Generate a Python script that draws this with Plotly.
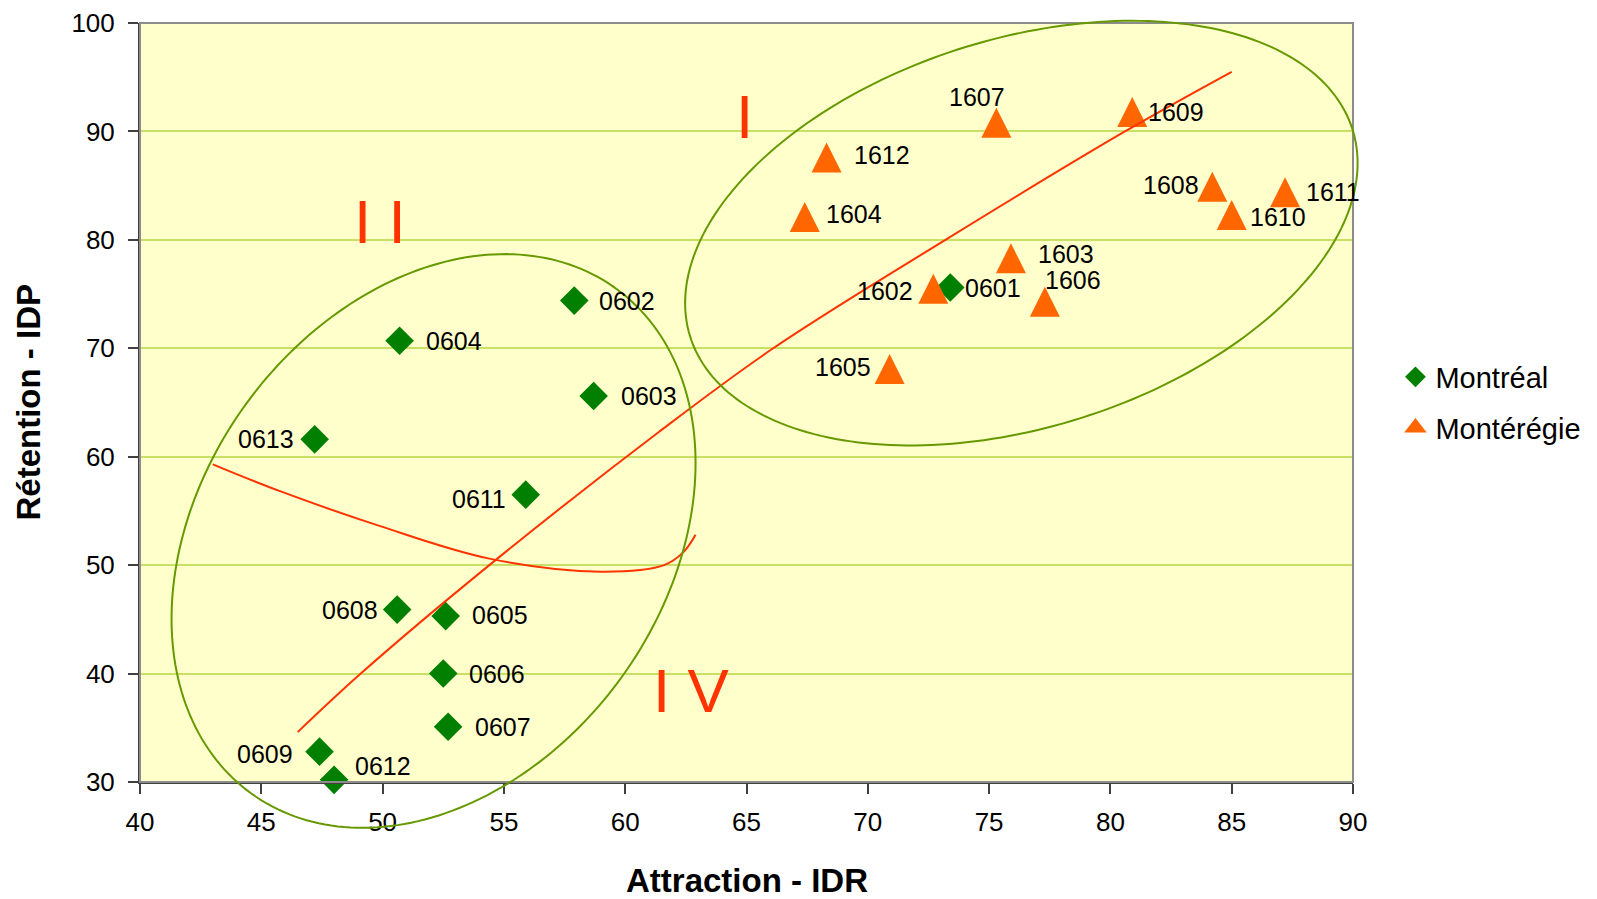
import numpy as np
import plotly.graph_objects as go

# ---------------- data ----------------
mtl_ids = ['0601', '0602', '0603', '0604', '0605', '0606', '0607', '0608', '0609', '0611', '0612', '0613']
mtl_x = [73.4, 57.9, 58.7, 50.7, 52.6, 52.5, 52.7, 50.6, 47.4, 55.9, 48.0, 47.2]
mtl_y = [75.6, 74.4, 65.6, 70.7, 45.3, 40.0, 35.1, 45.9, 32.8, 56.5, 30.2, 61.6]

mont_ids = ['1602', '1603', '1604', '1605', '1606', '1607', '1608', '1609', '1610', '1611', '1612']
mont_x = [72.7, 75.9, 67.4, 70.9, 77.3, 75.3, 84.2, 80.9, 85.0, 87.2, 68.3]
mont_y = [75.5, 78.3, 82.1, 68.1, 74.3, 90.8, 84.9, 91.8, 82.3, 84.4, 87.6]

# hand-drawn trend line
trend_x = [46.5, 49.1, 54.4, 61.4, 66.1, 73.2, 80.6, 85.0]
trend_y = [34.6, 40.0, 50.0, 62.3, 70.0, 80.0, 90.0, 95.5]

# hand-drawn separating curve
curve_x = [43.0, 45.8, 49.9, 54.4, 59.0, 61.6, 62.4, 62.9]
curve_y = [59.3, 56.8, 53.6, 50.6, 49.4, 50.0, 51.2, 52.8]

quadrant_labels = ['I', 'I I', 'I V']
quadrant_x = [64.9, 49.9, 62.7]
quadrant_y = [91.4, 81.7, 38.4]

x_ticks = [40, 45, 50, 55, 60, 65, 70, 75, 80, 85, 90]
y_ticks = [30, 40, 50, 60, 70, 80, 90, 100]

X_RANGE = [40, 90]
Y_RANGE = [30, 100]

# ---------------- label placement (px) ----------------
mtl_label_pos = {
    '0601': ('left', 14, 0), '0602': ('left', 24, 0), '0603': ('left', 26, 0),
    '0604': ('left', 25, 0), '0605': ('left', 25, -1), '0606': ('left', 25, 0),
    '0607': ('left', 26, 0), '0608': ('right', -18, 0), '0609': ('right', -26, 2),
    '0611': ('right', -19, 4), '0612': ('left', 20, -14), '0613': ('right', -20, 0),
}
mont_label_pos = {
    '1602': ('right', -19, 2), '1603': ('left', 26, -4), '1604': ('left', 20, -3),
    '1605': ('right', -18, -2), '1606': ('left', -1, -22), '1607': ('center', -19, -26),
    '1608': ('right', -12, -2), '1609': ('left', 15, 0), '1610': ('left', 17, 2),
    '1611': ('left', 20, 0), '1612': ('left', 26, -2),
}

FONT = 'Liberation Sans, Arial, sans-serif'
GREEN = '#007f00'
ORANGE = '#ff6600'
RED = '#ff3300'
OLIVE = '#669900'

fig = go.Figure()

fig.add_trace(go.Scatter(
    x=mtl_x, y=mtl_y, mode='markers', name='Montréal', cliponaxis=False,
    marker=dict(symbol='diamond', size=22, color=GREEN, line=dict(width=0)),
    legendgroup='a', legendrank=1, hoverinfo='skip'))
# upward pointing triangle with Excel-like proportions (centred on the point)
fig.add_trace(go.Scatter(
    x=mont_x, y=mont_y, mode='markers', name='Montérégie', cliponaxis=False,
    marker=dict(symbol='arrow-down', angle=180, standoff=15, size=30, color=ORANGE,
                line=dict(width=0)),
    legendgroup='b', showlegend=False, hoverinfo='skip'))
# legend entry for the Montérégie series
fig.add_trace(go.Scatter(
    x=[None], y=[None], mode='markers', name='Montérégie',
    marker=dict(symbol='triangle-up', size=16, color=ORANGE,
                line=dict(width=2, color=ORANGE)),
    legendgroup='b', legendrank=2, hoverinfo='skip'))

fig.add_trace(go.Scatter(x=trend_x, y=trend_y, mode='lines',
                         line=dict(color=RED, width=2, shape='spline', smoothing=1.0),
                         showlegend=False, hoverinfo='skip'))
fig.add_trace(go.Scatter(x=curve_x, y=curve_y, mode='lines',
                         line=dict(color=RED, width=2, shape='spline', smoothing=1.0),
                         showlegend=False, hoverinfo='skip'))


# ellipses (drawn shapes, may overflow the plot area) – geometry constants
def ellipse_path(cx, cy, ax, ay, bx, by, n=240):
    t = np.linspace(0, 2 * np.pi, n)
    xs = cx + ax * np.cos(t) + bx * np.sin(t)
    ys = cy + ay * np.cos(t) + by * np.sin(t)
    px = (xs - X_RANGE[0]) / (X_RANGE[1] - X_RANGE[0])
    py = (ys - Y_RANGE[0]) / (Y_RANGE[1] - Y_RANGE[0])
    pts = ['%.5f,%.5f' % (a, b) for a, b in zip(px, py)]
    return 'M' + ' L'.join(pts) + ' Z'


shapes = [dict(type='rect', xref='x domain', yref='y domain', x0=0, x1=1, y0=0, y1=1,
               line=dict(color='#8c8c8c', width=2), layer='above')]
for geo in [(76.33, 80.62, 13.86, 6.45, 0.0, 18.49), (52.10, 52.23, 10.80, 7.19, 0.0, 25.46)]:
    shapes.append(dict(type='path', xref='paper', yref='paper', path=ellipse_path(*geo),
                       line=dict(color=OLIVE, width=2), fillcolor='rgba(0,0,0,0)', layer='above'))

annotations = []
for ids, xs, ys, pos in [(mtl_ids, mtl_x, mtl_y, mtl_label_pos), (mont_ids, mont_x, mont_y, mont_label_pos)]:
    for i, xv, yv in zip(ids, xs, ys):
        anc, dx, dy = pos[i]
        annotations.append(dict(x=xv, y=yv, xref='x', yref='y', text=i, showarrow=False,
                                xanchor=anc, yanchor='middle', xshift=dx, yshift=-dy, borderpad=0,
                                font=dict(family=FONT, size=25, color='black')))
for t, xv, yv in zip(quadrant_labels, quadrant_x, quadrant_y):
    annotations.append(dict(x=xv, y=yv, xref='x', yref='y', text=t, showarrow=False,
                            xanchor='center', yanchor='middle',
                            font=dict(family=FONT, size=62, color=RED)))
annotations.append(dict(x=0.5, y=0, xref='paper', yref='paper', text='<b>Attraction - IDR</b>',
                        showarrow=False, xanchor='center', yanchor='middle', yshift=-98,
                        font=dict(family=FONT, size=33, color='black')))
annotations.append(dict(x=0, y=0.5, xref='paper', yref='paper', text='<b>Rétention - IDP</b>',
                        showarrow=False, xanchor='center', yanchor='middle', xshift=-112,
                        textangle=-90, font=dict(family=FONT, size=33, color='black')))

fig.update_layout(
    width=1597, height=899,
    margin=dict(l=140, r=244, t=23, b=117, autoexpand=False),
    paper_bgcolor='white', plot_bgcolor='#ffffcc',
    font=dict(family=FONT, color='black'),
    showlegend=True,
    legend=dict(x=1.035, y=0.5, xanchor='left', yanchor='middle', tracegroupgap=10,
                font=dict(family=FONT, size=29, color='black'), bgcolor='rgba(0,0,0,0)'),
    annotations=annotations,
    shapes=shapes,
)
fig.update_xaxes(range=X_RANGE, tickvals=x_ticks, ticks='outside', ticklen=10, tickwidth=1.5,
                 tickcolor='#404040', showline=True, linecolor='#404040', linewidth=2,
                 showgrid=False, zeroline=False, ticklabelstandoff=6, automargin=False,
                 tickfont=dict(family=FONT, size=26, color='black'))
fig.update_yaxes(range=Y_RANGE, tickvals=y_ticks, ticks='outside', ticklen=10, tickwidth=1.5,
                 tickcolor='#404040', showline=True, linecolor='#404040', linewidth=2,
                 showgrid=True, gridcolor='#c8e164', gridwidth=1.5, zeroline=False,
                 ticklabelstandoff=8, automargin=False,
                 tickfont=dict(family=FONT, size=26, color='black'))

fig.write_html('out.html')
